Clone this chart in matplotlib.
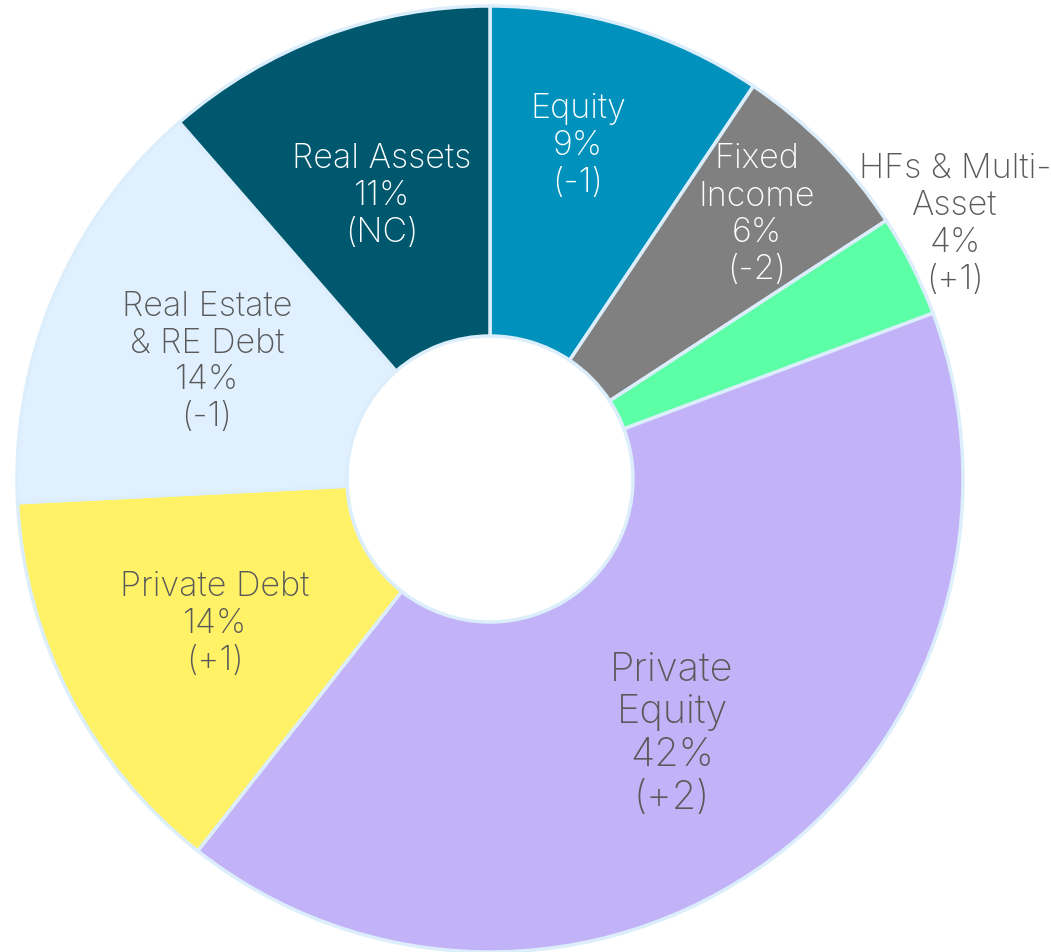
import matplotlib
matplotlib.use("Agg")
import matplotlib.pyplot as plt

plt.rcParams['font.family'] = ['Inter', 'DejaVu Sans']

# slices clockwise from 12 o'clock
names = ['Equity', 'Fixed\nIncome', 'HFs & Multi-\nAsset', 'Private\nEquity',
         'Private Debt', 'Real Estate\n& RE Debt', 'Real Assets']
shares = [9.4, 6.4, 3.5, 41.3, 13.6, 14.4, 11.4]
pct_labels = ['9%', '6%', '4%', '42%', '14%', '14%', '11%']
changes = ['(-1)', '(-2)', '(+1)', '(+2)', '(+1)', '(-1)', '(NC)']
colors = ['#0091BD', '#808080', '#5CFFA6', '#C2B2F7', '#FFF266', '#E0F0FF', '#00586F']

W, H = 1051, 953
fig = plt.figure(figsize=(W / 100, H / 100), dpi=100)
ax = fig.add_axes([0, 0, 1, 1])

cx, cy, R = 490, 480, 473
ax.pie(shares, colors=colors, startangle=90, counterclock=False,
       center=(cx, -cy), radius=R,
       wedgeprops=dict(width=R - 143, edgecolor='#DCEEFB', linewidth=2.5))
# pixel-like coordinates, y pointing up (so rows are negative)
ax.set_xlim(0, W)
ax.set_ylim(-H, 0)
ax.set_aspect('equal')
ax.axis('off')

# label positions (pixel coordinates of text centers) and styles
label_pos = [(578, 146), (757, 215), (955, 224), (672, 734),
             (215, 624), (207, 362), (382, 196)]
txt_colors = ['white', 'white', '#595959', '#595959', '#595959', '#595959', 'white']
sizes = [24.5, 24.5, 24.5, 28.5, 24.5, 24.5, 24.5]

for i in range(len(names)):
    x, y = label_pos[i]
    ax.text(x, -y, names[i] + '\n' + pct_labels[i] + '\n' + changes[i],
            ha='center', va='center', color=txt_colors[i], fontsize=sizes[i],
            fontweight='light', linespacing=1.2)

fig.savefig('out.png', dpi=100)
